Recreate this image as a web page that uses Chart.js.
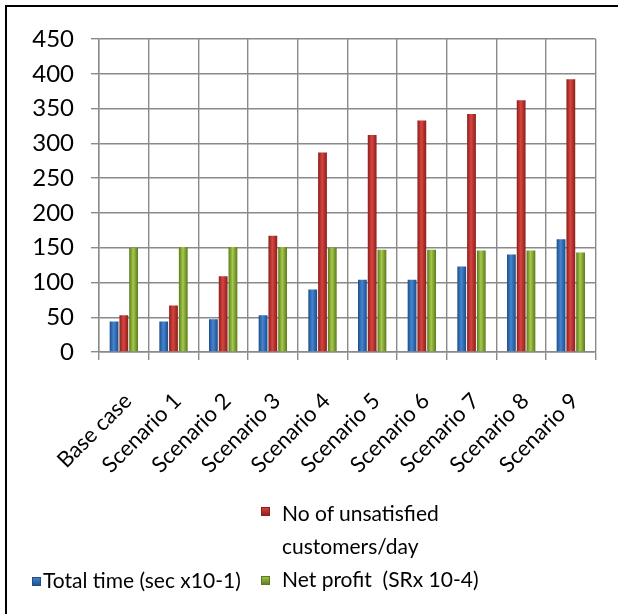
<!DOCTYPE html>
<html>
<head>
<meta charset="utf-8">
<script src="https://cdn.jsdelivr.net/npm/chart.js@4"></script>
<style>
  html, body { margin: 0; padding: 0; background: #fff; }
  #wrap { position: relative; width: 618px; height: 614px; overflow: hidden; }
  #frame { position: absolute; left: 5px; top: 5px; right: -10px; bottom: -10px;
           border-left: 2px solid #000; border-top: 2px solid #000; pointer-events: none; }
  .lg { position: absolute; font-family: Lato, "Liberation Sans", sans-serif; font-size: 21px;
        line-height: 33px; color: #000; white-space: pre; }
  .sw { position: absolute; width: 9px; height: 9px; }
</style>
</head>
<body>
<div id="wrap">
  <canvas id="chart" width="618" height="614"></canvas>
  <div id="frame"></div>
  <div id="legend"></div>
</div>
<script>
// categories and values
const categories = ['Base case', 'Scenario 1', 'Scenario 2', 'Scenario 3', 'Scenario 4',
                    'Scenario 5', 'Scenario 6', 'Scenario 7', 'Scenario 8', 'Scenario 9'];
const totalTime = [44, 44, 47, 53, 90, 104, 104, 123, 140, 162];
const unsatisfied = [53, 67, 109, 167, 287, 312, 333, 342, 362, 392];
const netProfit = [150, 151, 151, 151, 150, 147, 147, 146, 146, 143];
const yTicks = [0, 50, 100, 150, 200, 250, 300, 350, 400, 450];

const seriesNames = ['Total time (sec x10-1)', 'No of unsatisfied customers/day', 'Net profit  (SRx 10-4)'];

// bar shading: dark edge, light middle (like the excel bevel)
const shades = [
  { edge: '#1e4d88', mid: '#4485d2', flat: '#2f6bb6' },
  { edge: '#8a1e1c', mid: '#d8453f', flat: '#b93330' },
  { edge: '#5a7a1c', mid: '#a6c94a', flat: '#86ab35' }
];

function makeGradient(ctx, x0, x1, s) {
  const g = ctx.createLinearGradient(x0, 0, x1, 0);
  g.addColorStop(0, s.edge);
  g.addColorStop(0.45, s.mid);
  g.addColorStop(1, s.edge);
  return g;
}

// plugin that swaps the flat colour for a gradient across each bar
const bevelPlugin = {
  id: 'bevel',
  beforeDatasetsDraw(chart) {
    chart.data.datasets.forEach((ds, i) => {
      const meta = chart.getDatasetMeta(i);
      meta.data.forEach(bar => {
        const half = bar.width / 2;
        bar.options.backgroundColor = makeGradient(chart.ctx, bar.x - half, bar.x + half, shades[i]);
      });
    });
  }
};

const gridColor = '#8a8a8a';
const fontFamily = 'Lato, "Liberation Sans", sans-serif';

const chart = new Chart(document.getElementById('chart'), {
  type: 'bar',
  data: {
    labels: categories,
    datasets: [totalTime, unsatisfied, netProfit].map((vals, i) => ({
      label: seriesNames[i],
      data: vals,
      backgroundColor: () => shades[i].flat,
      borderWidth: 0,
      categoryPercentage: 0.59,
      barPercentage: 0.9
    }))
  },
  options: {
    responsive: false,
    animation: false,
    layout: { padding: { left: 0, top: 39, right: 10, bottom: 0 } },
    plugins: {
      legend: { display: false },
      tooltip: { enabled: false }
    },
    scales: {
      x: {
        grid: { color: gridColor, lineWidth: 1.4, tickLength: 8 },
        border: { color: gridColor, width: 1.4 },
        ticks: {
          color: '#000',
          font: { family: fontFamily, size: 22 },
          autoSkip: false,
          maxRotation: 45,
          minRotation: 45,
          padding: 28,
          labelOffset: 4
        },
        afterFit(scale) { scale.height = 614 - 352; }
      },
      y: {
        min: yTicks[0],
        max: yTicks[yTicks.length - 1],
        afterBuildTicks(scale) { scale.ticks = yTicks.map(v => ({ value: v })); },
        grid: { color: gridColor, lineWidth: 1.4, tickLength: 8 },
        border: { color: gridColor, width: 1.4 },
        ticks: {
          color: '#000',
          font: { family: fontFamily, size: 24 },
          padding: 17
        },
        afterFit(scale) { scale.width = 99; }
      }
    }
  },
  plugins: [bevelPlugin]
});

// html legend, laid out like the original (red item wraps onto two lines)
const legendSpots = [
  { sq: [32, 577], text: [43, 563], width: null },
  { sq: [261, 507], text: [282, 496], width: 175 },
  { sq: [261, 576], text: [282, 562], width: null }
];
const legendBox = document.getElementById('legend');
chart.data.datasets.forEach((ds, i) => {
  const spot = legendSpots[i];
  const sw = document.createElement('div');
  sw.className = 'sw';
  sw.style.left = spot.sq[0] + 'px';
  sw.style.top = spot.sq[1] + 'px';
  sw.style.background = `linear-gradient(180deg, ${shades[i].mid}, ${shades[i].edge})`;
  sw.style.boxShadow = `inset 0 0 0 1px ${shades[i].edge}`;
  legendBox.appendChild(sw);

  const txt = document.createElement('div');
  txt.className = 'lg';
  txt.textContent = ds.label;
  txt.style.left = spot.text[0] + 'px';
  txt.style.top = spot.text[1] + 'px';
  if (spot.width) {
    txt.style.whiteSpace = 'normal';
    txt.style.width = spot.width + 'px';
  }
  legendBox.appendChild(txt);
});
</script>
</body>
</html>
